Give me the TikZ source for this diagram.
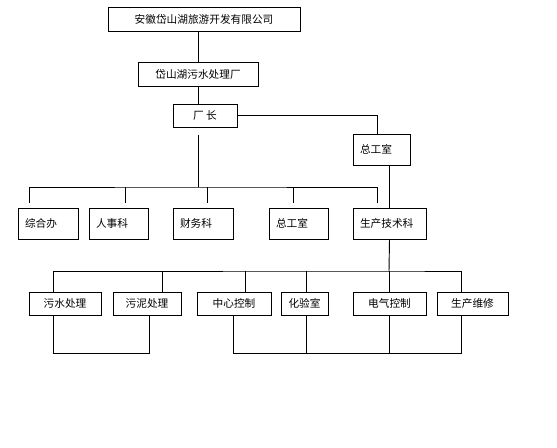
\documentclass[tikz,border=0pt]{standalone}
\usepackage{fontspec}
\newfontfamily\cjk{Noto Sans CJK SC}
\begin{document}
\begin{tikzpicture}[x=0.75pt,y=-0.75pt,
  line width=0.7pt,
  box/.style={draw,line width=0.7pt,inner sep=0pt,font=\cjk\fontsize{8}{10}\selectfont},
  lbox/.style={box,align=left,inner xsep=5.25pt}]
\useasboundingbox[fill=white] (0,0) rectangle (557,448);
% top levels
\node[box,minimum width=144pt,minimum height=18pt] (top) at (204,19) {安徽岱山湖旅游开发有限公司};
\node[box,minimum width=90pt,minimum height=18pt] (plant) at (198,74) {岱山湖污水处理厂};
\node[box,minimum width=48pt,minimum height=17.25pt] (director) at (205,115.5) {厂 长};
\node[lbox,text width=32.25pt,minimum height=23.25pt] (chief) at (381.5,149.5) {总工室};
% second row
\node[lbox,text width=34.5pt,minimum height=23.25pt] (zonghe) at (48,223.5) {综合办};
\node[lbox,text width=33.75pt,minimum height=23.25pt] (renshi) at (118.5,223.5) {人事科};
\node[lbox,text width=34.5pt,minimum height=23.25pt] (caiwu) at (203,223.5) {财务科};
\node[lbox,text width=33.75pt,minimum height=23.25pt] (zonggong) at (298.5,223.5) {总工室};
\node[lbox,text width=44.25pt,minimum height=23.25pt] (shengchan) at (389.5,223.5) {生产技术科};
% third row
\node[box,minimum width=54pt,minimum height=17.25pt] (wushui) at (65,303.5) {污水处理};
\node[box,minimum width=51pt,minimum height=17.25pt] (wuni) at (147,303.5) {污泥处理};
\node[box,minimum width=55.5pt,minimum height=17.25pt] (zhongxin) at (234,303.5) {中心控制};
\node[box,minimum width=35.25pt,minimum height=17.25pt] (huayan) at (304.5,303.5) {化验室};
\node[box,minimum width=54.75pt,minimum height=17.25pt] (dianqi) at (389.5,303.5) {电气控制};
\node[box,minimum width=53.25pt,minimum height=17.25pt] (weixiu) at (472.5,303.5) {生产维修};
% coordinates
\coordinate (dirdown) at (198,135);
\coordinate (busA) at (198,187);
\coordinate (chiefin) at (377,134);
\coordinate (d1) at (29,203);
\coordinate (d2) at (125,203);
\coordinate (d3) at (207,203);
\coordinate (d4) at (293,203);
\coordinate (d5) at (377,203);
\coordinate (busB) at (389,271);
\coordinate (lowL) at (53,353);
\coordinate (lowR) at (233,353);
% connectors
\draw (plant.north |- top.south) -- (plant.north);
\draw (plant.south) -- (plant.south |- director.north);
\draw (director.east) -| (chiefin);
\draw (shengchan.north |- chief.south) -- (shengchan.north);
\draw (dirdown) -- (busA);
\draw (d1) |- (busA) -| (d5);
\draw (d2) -- (d2 |- busA);
\draw (d3) -- (d3 |- busA);
\draw (d4) -- (d4 |- busA);
\draw (shengchan.south) -- (busB);
\draw ([xshift=-9pt]wushui.north) |- (busB) -| ([xshift=-8.25pt]weixiu.north);
\draw ([xshift=11.25pt]wuni.north) -- ([xshift=11.25pt]wuni.north |- busB);
\draw ([xshift=8.25pt]zhongxin.north) -- ([xshift=8.25pt]zhongxin.north |- busB);
\draw ([xshift=1.125pt]huayan.north) -- ([xshift=1.125pt]huayan.north |- busB);
\draw (dianqi.north) -- (dianqi.north |- busB);
\draw ([xshift=-9pt]wushui.south) |- (lowL) -| ([xshift=1.5pt]wuni.south);
\draw ([xshift=-0.75pt]zhongxin.south) |- (lowR) -| ([xshift=-8.25pt]weixiu.south);
\draw ([xshift=1.125pt]huayan.south) -- ([xshift=1.125pt]huayan.south |- lowR);
\draw (dianqi.south) -- (dianqi.south |- lowR);
\end{tikzpicture}
\end{document}
